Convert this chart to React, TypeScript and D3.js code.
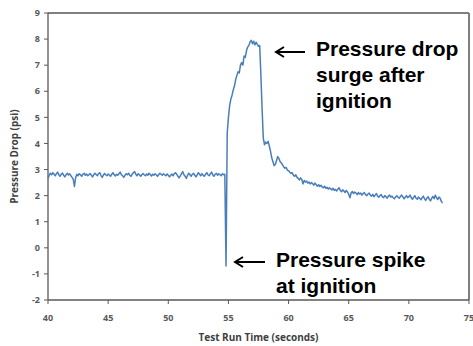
import React from "react";
import * as d3 from "d3";

const T0 = 40;
const STEP = 0.1;
const pressure: number[] = [
  2.65, 2.78, 2.86, 2.8, 2.88, 2.82, 2.76, 2.84, 2.9, 2.8,
  2.74, 2.82, 2.87, 2.78, 2.72, 2.8, 2.86, 2.79, 2.84, 2.76,
  2.7, 2.62, 2.35, 2.7, 2.82, 2.76, 2.84, 2.8, 2.74, 2.82,
  2.86, 2.78, 2.83, 2.76, 2.8, 2.85, 2.78, 2.72, 2.8, 2.86,
  2.81, 2.76, 2.84, 2.88, 2.78, 2.7, 2.78, 2.85, 2.8, 2.76,
  2.83, 2.79, 2.74, 2.82, 2.88, 2.8, 2.75, 2.82, 2.78, 2.84,
  2.9, 2.8, 2.76, 2.7, 2.78, 2.84, 2.8, 2.86, 2.78, 2.74,
  2.82, 2.88, 2.92, 2.82, 2.76, 2.84, 2.8, 2.74, 2.8, 2.85,
  2.8, 2.76, 2.83, 2.78, 2.86, 2.81, 2.75, 2.82, 2.78, 2.84,
  2.8, 2.74, 2.8, 2.86, 2.82, 2.78, 2.84, 2.8, 2.76, 2.83,
  2.78, 2.72, 2.78, 2.83, 2.76, 2.84, 2.88, 2.82, 2.74, 2.68,
  2.76, 2.84, 2.92, 2.8, 2.74, 2.66, 2.78, 2.86, 2.8, 2.74,
  2.82, 2.86, 2.78, 2.72, 2.8, 2.88, 2.82, 2.76, 2.84, 2.78,
  2.74, 2.82, 2.88, 2.8, 2.76, 2.84, 2.9, 2.8, 2.74, 2.82,
  2.86, 2.78, 2.84, 2.8, 2.76, 2.84, 2.8, 2.82, -0.7, 4.4,
  5.0, 5.45, 5.7, 5.85, 6.05, 6.2, 6.45, 6.6, 6.75, 6.7,
  7.0, 7.1, 7.0, 7.35, 7.3, 7.55, 7.7, 7.75, 7.9, 7.95,
  7.82, 7.92, 7.78, 7.88, 7.8, 7.72, 7.75, 6.6, 5.3, 4.2,
  3.95, 4.05, 4.0, 4.08, 3.9, 3.7, 3.45, 3.3, 3.15, 3.2,
  3.35, 3.5, 3.42, 3.3, 3.25, 3.18, 3.1, 3.05, 3.08, 2.98,
  2.95, 2.9, 2.85, 2.88, 2.78, 2.74, 2.8, 2.7, 2.66, 2.6,
  2.68, 2.62, 2.45, 2.58, 2.52, 2.56, 2.48, 2.52, 2.45, 2.5,
  2.46, 2.4, 2.48, 2.42, 2.36, 2.42, 2.35, 2.4, 2.33, 2.3,
  2.36, 2.28, 2.32, 2.25, 2.3, 2.26, 2.22, 2.28, 2.2, 2.24,
  2.18, 2.25, 2.3, 2.2, 2.15, 2.22, 2.18, 2.12, 2.2, 2.14,
  2.05, 1.92, 2.1, 2.16, 2.08, 2.14, 2.1, 2.04, 2.12, 2.06,
  2.1, 2.02, 2.08, 2.12, 2.04, 2.0, 2.06, 2.1, 2.02, 1.98,
  2.05, 1.96, 2.02, 2.08, 1.98, 1.94, 2.0, 2.04, 1.95, 1.92,
  2.0, 1.96, 1.9, 1.98, 2.02, 1.94, 1.98, 1.92, 1.88, 1.95,
  2.0, 1.94, 1.9, 1.97, 2.02, 1.95, 1.88, 1.94, 2.0, 1.92,
  1.96, 2.02, 1.92, 1.86, 1.94, 2.0, 1.9, 1.86, 1.95, 1.9,
  1.84, 1.92, 1.98, 1.88, 1.82, 1.9, 1.96, 1.86, 1.8, 1.9,
  1.97, 1.88, 2.02, 1.92, 1.85, 1.95, 1.9, 1.78, 1.72,
];
const xTicks = [40, 45, 50, 55, 60, 65, 70, 75];
const yTicks = [-2, -1, 0, 1, 2, 3, 4, 5, 6, 7, 8, 9];
const xTitle = "Test Run Time (seconds)";
const yTitle = "Pressure Drop (psi)";
const noteTop = ["Pressure drop", "surge after", "ignition"];
const noteBottom = ["Pressure spike", "at ignition"];

function Arrow({ x1, x2, yy }: { x1: number; x2: number; yy: number }) {
  return (
    <g stroke="#000" strokeWidth={2} fill="none" strokeLinecap="butt">
      <line x1={x2} x2={x1 + 1} y1={yy} y2={yy} />
      <path d={`M${x1 + 8},${yy - 5} L${x1},${yy} L${x1 + 8},${yy + 5}`} />
    </g>
  );
}

export default function App() {
  const W = 473, H = 346;
  const L = 48, R = 469, T = 13, B = 300;
  const x = d3.scaleLinear().domain([40, 75]).range([L, R]);
  const y = d3.scaleLinear().domain([-2, 9]).range([B, T]);
  const line = d3
    .line<number>()
    .x((_, i) => x(T0 + i * STEP))
    .y((d) => y(d));
  const tickFont = "'Open Sans', 'DejaVu Sans', sans-serif";
  const noteFont = "'Liberation Sans', Arial, sans-serif";
  return (
    <svg width={W} height={H} style={{ position: "absolute", left: 0, top: 0 }}>
      <rect x={0} y={0} width={W} height={H} fill="#fff" />
      <line x1={L} x2={R} y1={T} y2={T} stroke="#7f7f7f" strokeWidth={2} />
      <line x1={R} x2={R} y1={T} y2={B} stroke="#7f7f7f" strokeWidth={2} />
      <line x1={L} x2={L} y1={T} y2={B} stroke="#595959" strokeWidth={1.3} />
      <line x1={L} x2={R} y1={B} y2={B} stroke="#595959" strokeWidth={1.3} />
      {yTicks.map((v) => (
        <g key={"y" + v}>
          <line x1={L - 4} x2={L} y1={y(v)} y2={y(v)} stroke="#595959" strokeWidth={1} />
          <text x={L - 8} y={y(v)} dy="0.35em" textAnchor="end" fontFamily={tickFont}
            fontWeight="bold" fontSize={9} fill="#595959">{v}</text>
        </g>
      ))}
      {xTicks.map((v) => (
        <g key={"x" + v}>
          <line x1={x(v)} x2={x(v)} y1={B} y2={B + 4} stroke="#595959" strokeWidth={1} />
          <text x={x(v)} y={B + 21} textAnchor="middle" fontFamily={tickFont}
            fontWeight="bold" fontSize={9} fill="#595959">{v}</text>
        </g>
      ))}
      <text x={(L + R) / 2} y={341} textAnchor="middle" fontFamily={tickFont}
        fontWeight="bold" fontSize={10} fill="#404040">{xTitle}</text>
      <text transform={`translate(18,${(T + B) / 2}) rotate(-90)`} textAnchor="middle"
        fontFamily={tickFont} fontWeight="bold" fontSize={10} fill="#404040">{yTitle}</text>
      <path d={line(pressure) || ""} fill="none" stroke="#4a7ebb" strokeWidth={1.5}
        strokeLinejoin="round" />
      <Arrow x1={276} x2={305} yy={52} />
      <Arrow x1={235} x2={265} yy={262} />
      {noteTop.map((s, i) => (
        <text key={s} x={316} y={56 + i * 26} fontFamily={noteFont} fontWeight="bold"
          fontSize={21} fill="#000">{s}</text>
      ))}
      {noteBottom.map((s, i) => (
        <text key={s} x={276} y={267 + i * 26} fontFamily={noteFont} fontWeight="bold"
          fontSize={21} fill="#000">{s}</text>
      ))}
    </svg>
  );
}
